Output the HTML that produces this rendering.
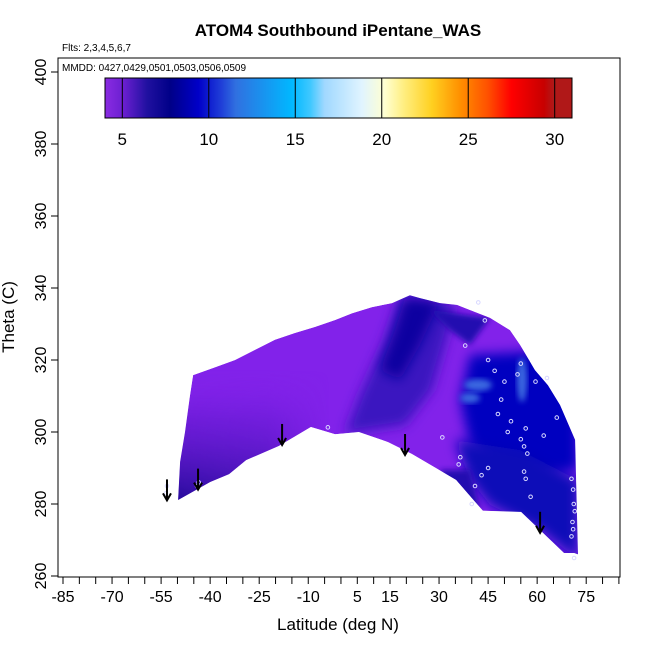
<!DOCTYPE html>
<html><head><meta charset="utf-8"><style>
html,body{margin:0;padding:0;background:#fff;}
svg{display:block;font-family:"Liberation Sans",sans-serif;}
</style></head><body>
<svg id="chart" width="650" height="650" viewBox="0 0 650 650">
<defs>
<linearGradient id="cbar" x1="0" x2="1" y1="0" y2="0">
<stop offset="0" stop-color="#8a2be2"/><stop offset="0.04" stop-color="#6a1fd0"/>
<stop offset="0.09" stop-color="#2010a0"/><stop offset="0.14" stop-color="#000088"/>
<stop offset="0.2" stop-color="#0000c8"/><stop offset="0.25" stop-color="#2040d8"/>
<stop offset="0.28" stop-color="#3070e0"/><stop offset="0.4" stop-color="#00b8ff"/>
<stop offset="0.44" stop-color="#40c8ff"/><stop offset="0.47" stop-color="#a0d8ff"/>
<stop offset="0.55" stop-color="#e0f4ff"/><stop offset="0.6" stop-color="#ffffd0"/>
<stop offset="0.64" stop-color="#ffee80"/><stop offset="0.7" stop-color="#ffd020"/>
<stop offset="0.76" stop-color="#ff9000"/><stop offset="0.82" stop-color="#ff5000"/>
<stop offset="0.87" stop-color="#ff0000"/><stop offset="0.94" stop-color="#c80000"/>
<stop offset="0.96" stop-color="#b01818"/><stop offset="1" stop-color="#b01818"/>
</linearGradient>
<linearGradient id="leftg" x1="0" x2="0" y1="0" y2="1">
<stop offset="0" stop-color="#8222ea" stop-opacity="0"/><stop offset="0.35" stop-color="#5a18c8" stop-opacity="0.5"/>
<stop offset="1" stop-color="#1a0890" stop-opacity="1"/>
</linearGradient>
<linearGradient id="leftx" x1="0" x2="1" y1="0" y2="0">
<stop offset="0" stop-color="#fff" stop-opacity="1"/><stop offset="0.6" stop-color="#fff" stop-opacity="0.8"/><stop offset="1" stop-color="#fff" stop-opacity="0"/>
</linearGradient>
<mask id="leftmask"><rect x="170" y="360" width="160" height="160" fill="url(#leftx)"/></mask>
<filter id="blur" x="-20%" y="-20%" width="140%" height="140%"><feGaussianBlur stdDeviation="6"/></filter>
<filter id="blur2" x="-20%" y="-20%" width="140%" height="140%"><feGaussianBlur stdDeviation="3"/></filter>
<clipPath id="shapeclip"><path id="clipPathEl"/></clipPath>
</defs>
<text x="338" y="36" text-anchor="middle" font-size="17" font-weight="bold">ATOM4 Southbound iPentane_WAS</text>
<text x="62" y="51" font-size="10">Flts: 2,3,4,5,6,7</text>
<g id="surface" clip-path="url(#shapeclip)"></g>
<g id="marks"></g>
<rect x="58" y="58" width="562" height="519" fill="none" stroke="#000" stroke-width="1"/>
<text x="62" y="71" font-size="10">MMDD: 0427,0429,0501,0503,0506,0509</text>
<g id="colorbar"></g>
<g id="axes"></g>
<text x="338" y="630" text-anchor="middle" font-size="17">Latitude (deg N)</text>
<text transform="translate(14,317) rotate(-90)" text-anchor="middle" font-size="17">Theta (C)</text>
</svg>
<script>
const xTicks=[-85,-70,-55,-40,-25,-10,5,15,30,45,60,75];
const yTicks=[260,280,300,320,340,360,380,400];
const cbTicks=[5,10,15,20,25,30];
const cbMin=4, cbMax=31;
const topLat=[-45.2,-38.5,-32.4,-26.3,-20.2,-14.1,-7.9,-1.8,3.4,9.5,15.6,21.1,24.2,30.3,35.5,45.6,51.7,54.8,59.3,63.3,67,71.6,72.5];
const topTheta=[315.8,318,320,322.8,325.6,327.5,329.2,331.1,333,334.7,335.8,338,337.2,335.8,335.3,331.7,328.3,324.2,317.2,313,307.5,297.8,266];
const botLat=[71.3,68.2,55.1,43.4,35.2,21.7,14.4,5.5,-1.8,-9.2,-19,-29,-34.2,-40,-49.8];
const botTheta=[266.4,266.4,277.8,278.1,286.7,293.9,297.2,300,299.4,301.4,296.1,292.2,288.3,286.1,281.1];
const leftLat=[-49.2,-47.7,-46.2];
const leftTheta=[291.7,300,310];
const arrowLat=[-53.2,-43.7,-18,19.6,60.9];
const arrowTheta=[281,284,296.4,293.6,272];
const ptLat=[-53.5,-53.2,-44,-43.5,-4,31,38,42,44,45,47,48,49,50,51,52,54,55,56,56.5,58,59.5,62,63,66,70.5,71,71.2,71.5,70.8,71,70.5,71.3,36,36.5,40,41,43,45,55,56.5,56,57];
const ptTheta=[283,285,285,286,301.3,298.5,324,336,331,320,317,305,309,314,300,303,316,319,289,287,282,314,299,315,304,287,284,280,278,275,273,271,265,291,293,280,285,288,290,298,301,296,294];
const NS='http://www.w3.org/2000/svg';
const X=l=>63+(l+85)*3.27;
const Y=t=>576-(t-260)*3.6;
const CB=v=>105+(v-cbMin)*(572-105)/(cbMax-cbMin);
function mk(tag,attrs,parent){const e=document.createElementNS(NS,tag);for(const k in attrs)e.setAttribute(k,attrs[k]);parent.appendChild(e);return e;}
let pts=[];
topLat.forEach((l,i)=>pts.push([X(l),Y(topTheta[i])]));
botLat.forEach((l,i)=>pts.push([X(l),Y(botTheta[i])]));
leftLat.forEach((l,i)=>pts.push([X(l),Y(leftTheta[i])]));
let d='';
pts.forEach((p,i)=>{d+=(i?'L':'M')+p[0].toFixed(1)+','+p[1].toFixed(1);});
d+='Z';
document.getElementById('clipPathEl').setAttribute('d',d);
const surf=document.getElementById('surface');
let base=mk('path',{d:d,fill:'#8222ea'},surf);


let lg=mk('rect',{x:170,y:370,width:160,height:140,fill:'url(#leftg)',mask:'url(#leftmask)'},surf);


const darkPolys=[
 {p:'400,296 455,303 448,335 432,390 405,425 345,434 360,395 385,340',c:'#3a14c0',f:'blur'},
 {p:'405,298 440,302 420,345 400,380 380,370 395,330',c:'#0a04a0',f:'blur'},
 {p:'430,310 490,318 470,345 450,330',c:'#2410b0',f:'blur2'},
 {p:'470,355 560,350 578,400 578,470 545,475 500,470 470,445 460,400',c:'#0000c0',f:'blur'},
 {p:'455,440 520,450 578,480 578,560 540,530 490,505 470,480',c:'#0808b8',f:'blur'},
 {p:'440,470 470,470 480,510 455,505',c:'#2010b0',f:'blur2'}
];
darkPolys.forEach(o=>{const e=mk('polygon',{points:o.p,fill:o.c,filter:'url(#'+o.f+')'},surf);

});
[[478,385,14,6],[470,398,10,5],[522,380,5,22]].forEach(s=>{const e=mk('ellipse',{cx:s[0],cy:s[1],rx:s[2],ry:s[3],fill:'#3a68e0',filter:'url(#blur2)'},surf);

});
const marks=document.getElementById('marks');
ptLat.forEach((l,i)=>{const c=mk('circle',{cx:X(l),cy:Y(ptTheta[i]),r:1.8,fill:'none',stroke:'#d8d8ff','stroke-width':1},marks);

});
arrowLat.forEach((l,i)=>{const x=X(l),y=Y(arrowTheta[i]);
const g=mk('g',{},marks);


mk('line',{x1:x,y1:y-21,x2:x,y2:y,stroke:'#000','stroke-width':2},g);
mk('path',{d:`M${x-4},${y-7}L${x},${y}L${x+4},${y-7}`,fill:'none',stroke:'#000','stroke-width':2},g);});
const cb=document.getElementById('colorbar');
mk('rect',{x:105,y:78,width:467,height:40,fill:'url(#cbar)',stroke:'#000','stroke-width':1},cb);
cbTicks.forEach(v=>{const l=mk('line',{x1:CB(v),y1:78,x2:CB(v),y2:118,stroke:'#000','stroke-width':1},cb);


const t=mk('text',{x:CB(v),y:145,'text-anchor':'middle','font-size':17},cb);t.textContent=v;

});
const ax=document.getElementById('axes');
for(let v=-85;v<=85;v+=5){const x=X(v);if(x>621)break;const l=mk('line',{x1:x,y1:577,x2:x,y2:584,stroke:'#000'},ax);

}
xTicks.forEach(v=>{const t=mk('text',{x:X(v),y:602,'text-anchor':'middle','font-size':16},ax);t.textContent=v;

});
yTicks.forEach(v=>{const y=Y(v);const l=mk('line',{x1:51,y1:y,x2:58,y2:y,stroke:'#000'},ax);


const t=mk('text',{transform:`translate(46,${y}) rotate(-90)`,'text-anchor':'middle','font-size':16},ax);t.textContent=v;

});
</script>
</body></html>
